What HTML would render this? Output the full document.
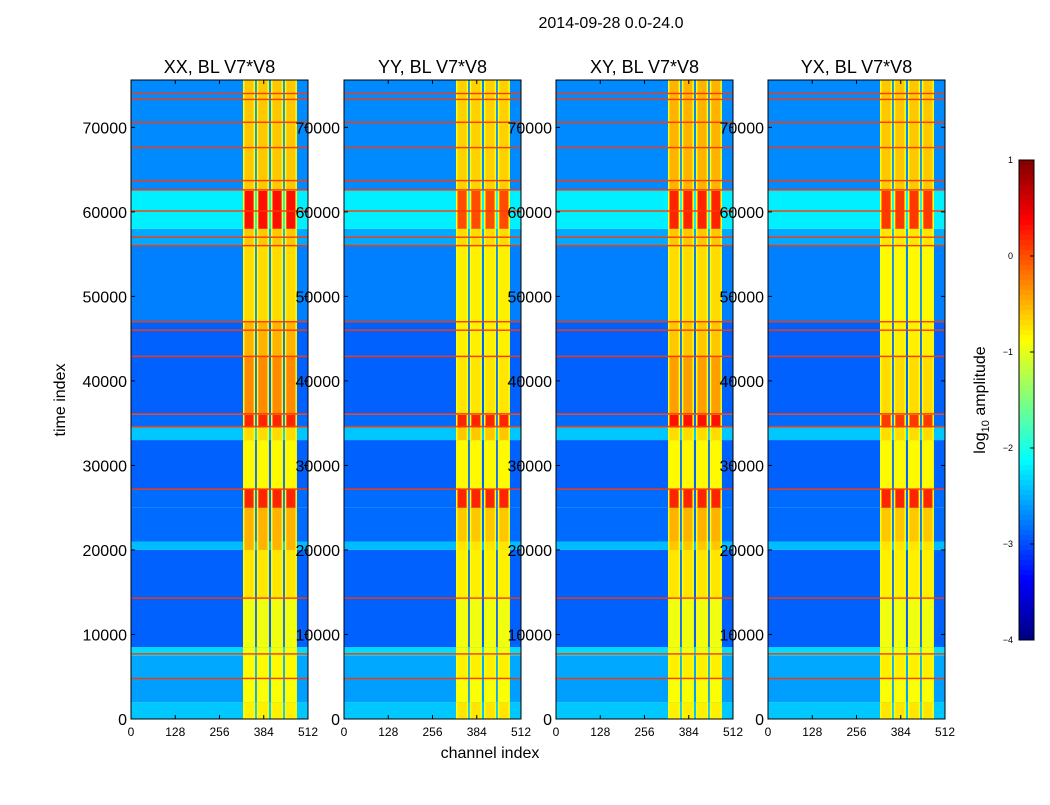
<!DOCTYPE html>
<html><head><meta charset="utf-8"><style>
body{margin:0;background:#fff}
svg text{font-family:"Liberation Sans",sans-serif}
</style></head><body>
<svg id="c" width="1050" height="800" xmlns="http://www.w3.org/2000/svg">
<text x="611" y="28" text-anchor="middle" font-size="16">2014-09-28 0.0-24.0</text>
<text x="490" y="758" text-anchor="middle" font-size="16">channel index</text>
<text transform="translate(65,400) rotate(-90)" text-anchor="middle" font-size="16">time index</text>
<text transform="translate(985,400) rotate(-90)" text-anchor="middle" font-size="16">log<tspan font-size="11" dy="4">10</tspan><tspan dy="-4"> amplitude</tspan></text>
</svg>
<script>
const panelTitles=["XX, BL V7*V8","YY, BL V7*V8","XY, BL V7*V8","YX, BL V7*V8"];
const xTicks=[0,128,256,384,512];
const yTicks=[0,10000,20000,30000,40000,50000,60000,70000];
const cbTicks=[1,0,-1,-2,-3,-4];
const rowStarts=[0,2000,4800,7500,8500,14300,20000,21000,25000,27200,33000,34500,36000,43000,47000,56000,58000,62500];
const rowEnds=[2000,4800,7500,8500,14300,20000,21000,25000,27200,33000,34500,36000,43000,47000,56000,58000,62500,75600];
const lowLevel=[-2.4,-2.6,-2.55,-2.3,-2.9,-2.9,-2.45,-2.85,-2.85,-2.9,-2.4,-2.85,-2.9,-2.9,-2.75,-2.55,-2.2,-2.7];
const highXX=[-0.8,-0.9,-0.85,-0.95,-0.95,-0.75,-0.5,-0.5,0.2,-0.85,-0.7,0.2,-0.3,-0.5,-0.7,-0.6,0.3,-0.6];
const highYY=[-0.75,-0.9,-0.8,-0.95,-0.95,-0.8,-0.75,-0.6,0.2,-0.85,-0.6,0.2,-0.75,-0.8,-0.8,-0.7,0.0,-0.65];
const highXY=[-0.8,-0.9,-0.8,-0.95,-0.95,-0.75,-0.6,-0.5,0.2,-0.85,-0.7,0.3,-0.4,-0.6,-0.7,-0.6,0.2,-0.5];
const highYX=[-0.75,-0.9,-0.8,-0.95,-0.95,-0.8,-0.75,-0.6,0.2,-0.85,-0.7,0.1,-0.7,-0.8,-0.85,-0.75,0.1,-0.6];
const highSeries=[highXX,highYY,highXY,highYX];
const stripeStart=[324,364,405,445];
const stripeEnd=[359,399,440,480];
const rfiLines=[4800,7700,14300,27200,34600,36100,42900,46000,47000,56000,57000,60100,62600,63700,67600,70600,73300,74000];
const panelLeft=[131,344,556,768];
const PW=177,PT=80,PB=719,TMAX=75600;
const svg=document.getElementById('c');
const NS="http://www.w3.org/2000/svg";
function jet(v){let t=(v+4)/5;t=Math.max(0,Math.min(1,t));
 const f=x=>Math.round(255*Math.max(0,Math.min(1,1.5-Math.abs(4*t-x))));
 return `rgb(${f(3)},${f(2)},${f(1)})`;}
function el(tag,attrs,parent){const e=document.createElementNS(NS,tag);for(const k in attrs)e.setAttribute(k,attrs[k]);(parent||svg).appendChild(e);return e;}
function yS(t){return PB-(t/TMAX)*(PB-PT);}
panelLeft.forEach((L,p)=>{
 const xS=c=>L+c/512*PW;
 const g=el('g',{});
 
 
 const hs=highSeries[p];
 rowStarts.forEach((s,i)=>{
  const y0=yS(rowEnds[i]),y1=yS(s),h=y1-y0;
  const r=el('rect',{x:L,y:y0,width:PW,height:h,fill:jet(lowLevel[i])},g);
  
  
  stripeStart.forEach((cs,k)=>{
   const a=el('rect',{x:xS(cs),y:y0,width:xS(stripeEnd[k])-xS(cs),height:h,fill:jet(-0.9)},g);
   
   
   const b=el('rect',{x:xS(cs)+1.5,y:y0,width:xS(stripeEnd[k])-xS(cs)-3,height:h,fill:jet(hs[i])},g);
   
   
  });
 });
 rfiLines.forEach(t=>{
  const l=el('rect',{x:L,y:yS(t)-0.7,width:PW,height:1.4,fill:jet(0.1)},g);
  
  
 });
 const fr=el('rect',{x:L,y:PT,width:PW,height:PB-PT,fill:'none',stroke:'#000','stroke-width':1},g);
 
 
 const tt=el('text',{x:L+PW/2,y:73,'text-anchor':'middle','font-size':18},g);
 tt.textContent=panelTitles[p];
 
 
 xTicks.forEach(v=>{
  el('line',{x1:xS(v),x2:xS(v),y1:PB,y2:PB-4,stroke:'#000'},g);
  el('line',{x1:xS(v),x2:xS(v),y1:PT,y2:PT+4,stroke:'#000'},g);
  const t=el('text',{x:xS(v),y:736,'text-anchor':'middle','font-size':12},g);
  t.textContent=v;
  
  
 });
 yTicks.forEach(v=>{
  el('line',{x1:L,x2:L+4,y1:yS(v),y2:yS(v),stroke:'#000'},g);
  el('line',{x1:L+PW,x2:L+PW-4,y1:yS(v),y2:yS(v),stroke:'#000'},g);
  const t=el('text',{x:L-4,y:yS(v)+6,'text-anchor':'end','font-size':16},g);
  t.textContent=v;
  
  
 });
});
const cb=el('g',{});


for(let i=0;i<96;i++){
 const v=1-5*(i+0.5)/96;
 el('rect',{x:1019,y:160+i*5,width:15,height:5.5,fill:jet(v)},cb);
}
el('rect',{x:1019,y:160,width:15,height:480,fill:'none',stroke:'#000'},cb);
cbTicks.forEach(v=>{
 const y=160+(1-v)/5*480;
 el('line',{x1:1030,x2:1034,y1:y,y2:y,stroke:'#000'},cb);
 const t=el('text',{x:1013,y:y+3,'text-anchor':'end','font-size':9},cb);
 t.textContent=v<0?'\u2212'+(-v):v;
 
 
});
</script>
</body></html>
